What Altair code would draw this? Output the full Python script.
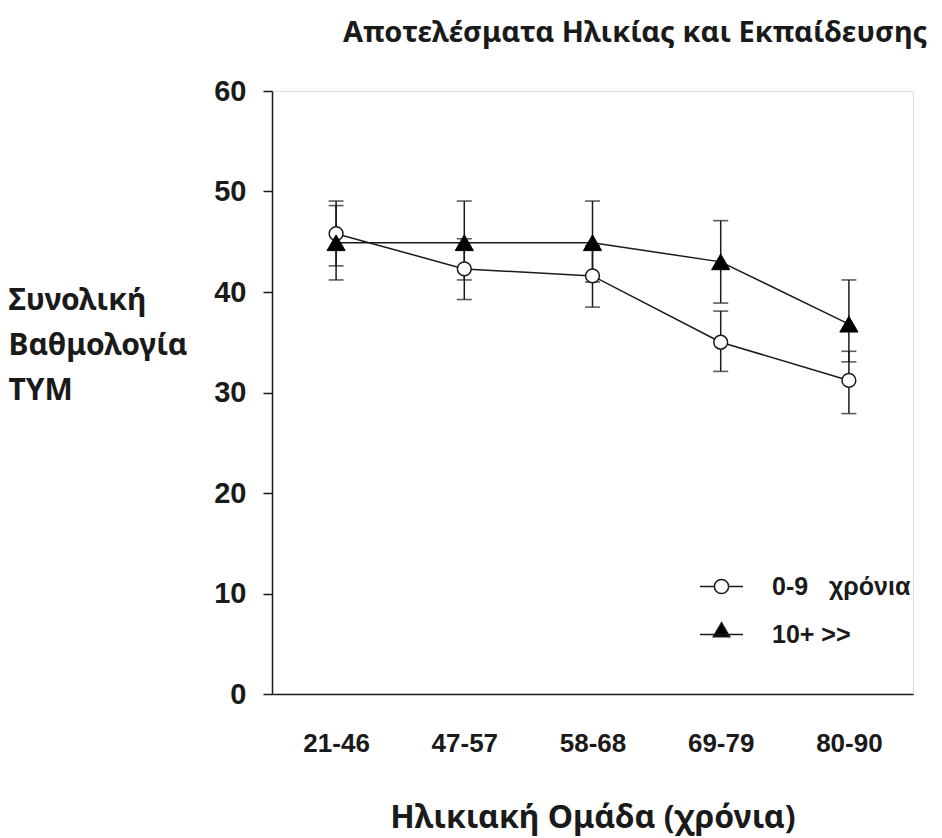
import altair as alt
import pandas as pd

categories = ["21-46", "47-57", "58-68", "69-79", "80-90"]
series_names = ["0-9\u00a0\u00a0\u00a0χρόνια", "10+ >>"]

low_edu_mean = [45.8, 42.3, 41.6, 35.0, 31.2]
low_edu_upper = [48.6, 45.3, 44.6, 38.1, 34.1]
low_edu_lower = [42.6, 39.25, 38.5, 32.1, 27.9]

high_edu_mean = [44.9, 44.9, 44.9, 43.0, 36.8]
high_edu_upper = [49.05, 49.05, 49.05, 47.1, 41.2]
high_edu_lower = [41.2, 41.2, 41.0, 38.9, 33.05]

y_ticks = [0, 10, 20, 30, 40, 50, 60]

rows = []
for i, c in enumerate(categories):
    rows.append(dict(cat=c, series=series_names[0], mean=low_edu_mean[i],
                     hi=low_edu_upper[i], lo=low_edu_lower[i]))
for i, c in enumerate(categories):
    rows.append(dict(cat=c, series=series_names[1], mean=high_edu_mean[i],
                     hi=high_edu_upper[i], lo=high_edu_lower[i]))
df = pd.DataFrame(rows)

INK = "#1a1a1a"
LABEL_FONT = "Liberation Sans"
TITLE_FONT = "Noto Sans"

x_enc = alt.X("cat:N", sort=categories,
              scale=alt.Scale(type="point", padding=0.5),
              axis=alt.Axis(title="Ηλικιακή Ομάδα (χρόνια)", labelAngle=0, ticks=False,
                            labelFont=LABEL_FONT, labelFontSize=26,
                            labelFontWeight="bold", labelColor=INK,
                            labelPadding=49, labelBaseline="middle",
                            domainColor=INK, domainWidth=1.5,
                            titleFont=TITLE_FONT, titleFontSize=32, titleFontWeight="bold",
                            titleColor=INK, titleY=123, titleBaseline="middle"))
y_scale = alt.Scale(domain=[0, 60], nice=False, zero=True)
y_axis = alt.Axis(title=["Συνολική", "Βαθμολογία", "TYM"], values=y_ticks, grid=False,
                  tickSize=9, tickWidth=1.5, tickColor=INK, domainColor=INK, domainWidth=1.5,
                  labelFont=LABEL_FONT, labelFontSize=29, labelFontWeight="bold",
                  labelColor=INK, labelPadding=17,
                  titleFont=TITLE_FONT, titleFontSize=30, titleFontWeight="bold",
                  titleColor=INK, titleAngle=0, titleAlign="left", titleBaseline="top",
                  titleX=-264, titleY=194, titleLineHeight=45)

base = alt.Chart(df)

err_rule = base.mark_rule(color=INK, strokeWidth=1.5).encode(
    x=x_enc, y=alt.Y("lo:Q", scale=y_scale, axis=y_axis), y2="hi:Q")
cap_hi = base.mark_tick(color=INK, thickness=1.6, size=15, orient="horizontal").encode(
    x=x_enc, y=alt.Y("hi:Q", scale=y_scale))
cap_lo = base.mark_tick(color=INK, thickness=1.6, size=15, orient="horizontal").encode(
    x=x_enc, y=alt.Y("lo:Q", scale=y_scale))

lines = base.mark_line(color=INK, strokeWidth=1.5).encode(
    x=x_enc, y=alt.Y("mean:Q", scale=y_scale), detail="series:N")

circles = base.transform_filter(alt.datum.series == series_names[0]).mark_point(
    shape="circle", size=190, filled=True, fill="white", stroke=INK, strokeWidth=1.5, opacity=1
).encode(x=x_enc, y=alt.Y("mean:Q", scale=y_scale))

triangles = base.transform_filter(alt.datum.series == series_names[1]).mark_point(
    shape="triangle-up", size=330, filled=True, fill="black", stroke="black", strokeWidth=1, opacity=1
).encode(x=x_enc, y=alt.Y("mean:Q", scale=y_scale))

circle_path = ("M-1,0H-0.33M0.33,0H1M-0.33,0A0.33,0.33,0,1,1,0.33,0"
               "A0.33,0.33,0,1,1,-0.33,0Z")
triangle_path = "M-1,0H1M0,-0.55L0.38,0.1L-0.38,0.1Z"

legend_props = dict(title=None, orient="none", legendX=427, legendY=473,
                    symbolSize=1849, symbolStrokeWidth=1.5, labelFont=LABEL_FONT,
                    labelFontSize=25, labelFontWeight="bold", labelColor=INK,
                    labelOffset=28, rowPadding=12, padding=0)

legend_layer = base.transform_filter("false").mark_point(
    filled=False, strokeWidth=1.5, opacity=1
).encode(
    shape=alt.Shape("series:N", scale=alt.Scale(domain=series_names,
                                                range=[circle_path, triangle_path]),
                    legend=alt.Legend(**legend_props)),
    fill=alt.Fill("series:N", scale=alt.Scale(domain=series_names, range=["white", "black"]),
                  legend=alt.Legend(**legend_props)),
    stroke=alt.Stroke("series:N", scale=alt.Scale(domain=series_names, range=[INK, INK]),
                      legend=alt.Legend(**legend_props)),
)

chart = alt.layer(err_rule, cap_hi, cap_lo, lines, circles, triangles, legend_layer).properties(
    width=641, height=603,
    title=alt.TitleParams("Αποτελέσματα Ηλικίας και Εκπαίδευσης", anchor="start", frame="group",
                          dx=71, offset=6, baseline="alphabetic", font=TITLE_FONT,
                          fontSize=29, fontWeight="bold", color=INK),
    autosize=alt.AutoSizeParams(type="none"),
    padding={"left": 272, "top": 91, "right": 29, "bottom": 144},
).configure_view(stroke=None).configure(background="white")

chart.save("out.html", embed_options={"renderer": "svg", "actions": False})
